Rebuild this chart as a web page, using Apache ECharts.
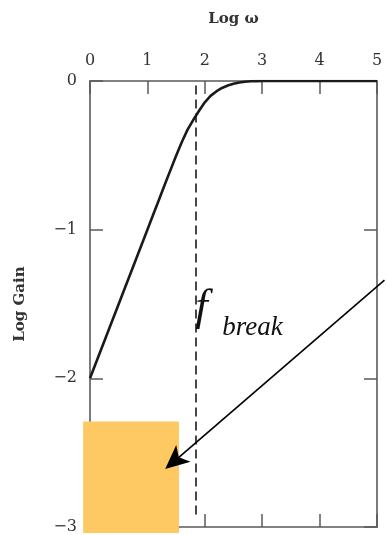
<!DOCTYPE html>
<html>
<head>
<meta charset="utf-8">
<script src="https://cdn.jsdelivr.net/npm/echarts@6/dist/echarts.min.js"></script>
<style>
  html, body { margin: 0; padding: 0; background: #fff; }
  #chart { width: 386px; height: 535px; }
</style>
</head>
<body>
<div id="chart"></div>
<script>
// Gain curve of the high-pass response, log-log
const logOmega = [0, 0.5, 1.0, 1.1, 1.2, 1.3, 1.4, 1.5, 1.6, 1.7, 1.8, 1.9, 2.0, 2.1, 2.2, 2.3, 2.4, 2.5, 2.6, 2.7, 2.8, 2.9, 3.0, 3.5, 4.0, 4.5, 5.0];
const logGain  = [-2.0, -1.5, -1.0, -0.90, -0.80, -0.70, -0.601, -0.503, -0.41, -0.327, -0.262, -0.2, -0.143, -0.10, -0.07, -0.047, -0.03, -0.018, -0.01, -0.005, -0.002, -0.001, 0, 0, 0, 0, 0];

// Tick labels
const xTickLabels = ['0', '1', '2', '3', '4', '5'];
const yTickLabels = ['0', '\u22121', '\u22122', '\u22123'];

// Break frequency marker (dashed line) and its vertical extent
const breakLogOmega = [1.85];
const breakSpan = [-0.03, -2.93];

// Pointer arrow: start and end in (log ω, log gain)
const arrowLogOmega = [5.13, 1.31];
const arrowLogGain = [-1.34, -2.61];

// Highlight block in (log ω, log gain)
const boxLogOmega = [-0.12, 1.55];
const boxLogGain = [-2.29, -3.04];

const ink = '#1a1a1a';
const frame = '#5a5a5a';
const textColor = '#333';
const serif = '"DejaVu Serif", "Liberation Serif", serif';

const chart = echarts.init(document.getElementById('chart'), null, { renderer: 'canvas' });

const tickStyle = { show: true, inside: true, length: 13, lineStyle: { color: frame, width: 1.5 } };
const lineStyleFrame = { color: frame, width: 1.6 };

const option = {
  backgroundColor: '#fff',
  animation: false,
  grid: { left: 90, right: 9, top: 81, bottom: 8, containLabel: false, outerBoundsMode: 'none' },
  xAxis: [
    {
      type: 'value', position: 'top', min: 0, max: 5, interval: 1,
      name: 'Log \u03c9', nameLocation: 'middle', nameGap: 54,
      nameTextStyle: { fontFamily: serif, fontSize: 15, color: textColor, fontWeight: 'bold' },
      axisLine: { show: true, onZero: false, lineStyle: lineStyleFrame },
      axisTick: tickStyle,
      axisLabel: {
        margin: 12, fontFamily: serif, fontSize: 16, color: textColor,
        formatter: (v) => xTickLabels[Math.round(v)]
      },
      splitLine: { show: false }
    },
    {
      type: 'value', position: 'bottom', min: 0, max: 5, interval: 1,
      axisLine: { show: true, onZero: false, lineStyle: lineStyleFrame },
      axisTick: tickStyle,
      axisLabel: { show: false },
      splitLine: { show: false }
    }
  ],
  yAxis: [
    {
      type: 'value', position: 'left', min: -3, max: 0, interval: 1,
      name: 'Log Gain', nameLocation: 'middle', nameGap: 62,
      nameTextStyle: { fontFamily: serif, fontSize: 15, color: textColor, fontWeight: 'bold' },
      axisLine: { show: true, onZero: false, lineStyle: lineStyleFrame },
      axisTick: tickStyle,
      axisLabel: {
        margin: 13, fontFamily: serif, fontSize: 16, color: textColor,
        formatter: (v) => yTickLabels[Math.round(-v)]
      },
      splitLine: { show: false }
    },
    {
      type: 'value', position: 'right', min: -3, max: 0, interval: 1,
      axisLine: { show: true, onZero: false, lineStyle: lineStyleFrame },
      axisTick: tickStyle,
      axisLabel: { show: false },
      splitLine: { show: false }
    }
  ],
  series: [
    {
      type: 'line',
      xAxisIndex: 0, yAxisIndex: 0,
      data: logOmega.map((x, i) => [x, logGain[i]]),
      smooth: false,
      showSymbol: false,
      z: 100,
      lineStyle: { color: ink, width: 2.6, join: 'round' },
      markLine: {
        silent: true,
        animation: false,
        symbol: 'none',
        label: { show: false },
        lineStyle: { color: ink, width: 1.6, type: [9, 5] },
        data: [
          [
            { coord: [breakLogOmega[0], breakSpan[0]] },
            { coord: [breakLogOmega[0], breakSpan[1]] }
          ]
        ]
      }
    }
  ]
};

chart.setOption(option);

// Overlay annotations positioned through the chart's own scales
const toPx = (x, y) => chart.convertToPixel({ seriesIndex: 0 }, [x, y]);
const b0 = toPx(boxLogOmega[0], boxLogGain[0]);
const b1 = toPx(boxLogOmega[1], boxLogGain[1]);
const fAnchor = toPx(breakLogOmega[0], -1.6);
const subAnchor = toPx(breakLogOmega[0], -1.695);

// Arrow shaft and head
const a0 = toPx(arrowLogOmega[0], arrowLogGain[0]);
const a1 = toPx(arrowLogOmega[1], arrowLogGain[1]);
const dx = a1[0] - a0[0], dy = a1[1] - a0[1];
const len = Math.hypot(dx, dy);
const ux = dx / len, uy = dy / len;       // unit along the shaft
const nx = -uy, ny = ux;                  // unit normal
const headLen = 24, headHalf = 11, notch = 6;
const base = [a1[0] - ux * headLen, a1[1] - uy * headLen];
const headPts = [
  a1,
  [base[0] + nx * headHalf, base[1] + ny * headHalf],
  [a1[0] - ux * (headLen - notch), a1[1] - uy * (headLen - notch)],
  [base[0] - nx * headHalf, base[1] - ny * headHalf]
];
const shaftEnd = [a1[0] - ux * (headLen - notch), a1[1] - uy * (headLen - notch)];

chart.setOption({
  graphic: [
    {
      type: 'rect', z: 50,
      shape: { x: Math.min(b0[0], b1[0]), y: Math.min(b0[1], b1[1]), width: Math.abs(b1[0] - b0[0]), height: Math.abs(b1[1] - b0[1]) },
      style: { fill: '#FEC963' }
    },
    {
      type: 'line', z: 60,
      shape: { x1: a0[0], y1: a0[1], x2: shaftEnd[0], y2: shaftEnd[1] },
      style: { stroke: '#000', lineWidth: 1.6 }
    },
    {
      type: 'polygon', z: 60,
      shape: { points: headPts },
      style: { fill: '#000' }
    },
    {
      type: 'text', z: 60,
      style: {
        text: 'f', x: fAnchor[0] - 1, y: fAnchor[1] + 12,
        font: 'italic 45px "Liberation Serif", serif',
        fill: '#111', align: 'left', verticalAlign: 'bottom'
      }
    },
    {
      type: 'text', z: 60,
      style: {
        text: 'break', x: subAnchor[0] + 26, y: subAnchor[1] + 8,
        font: 'italic 27px "Liberation Serif", serif',
        fill: '#111', align: 'left', verticalAlign: 'bottom'
      }
    }
  ]
});
</script>
</body>
</html>
